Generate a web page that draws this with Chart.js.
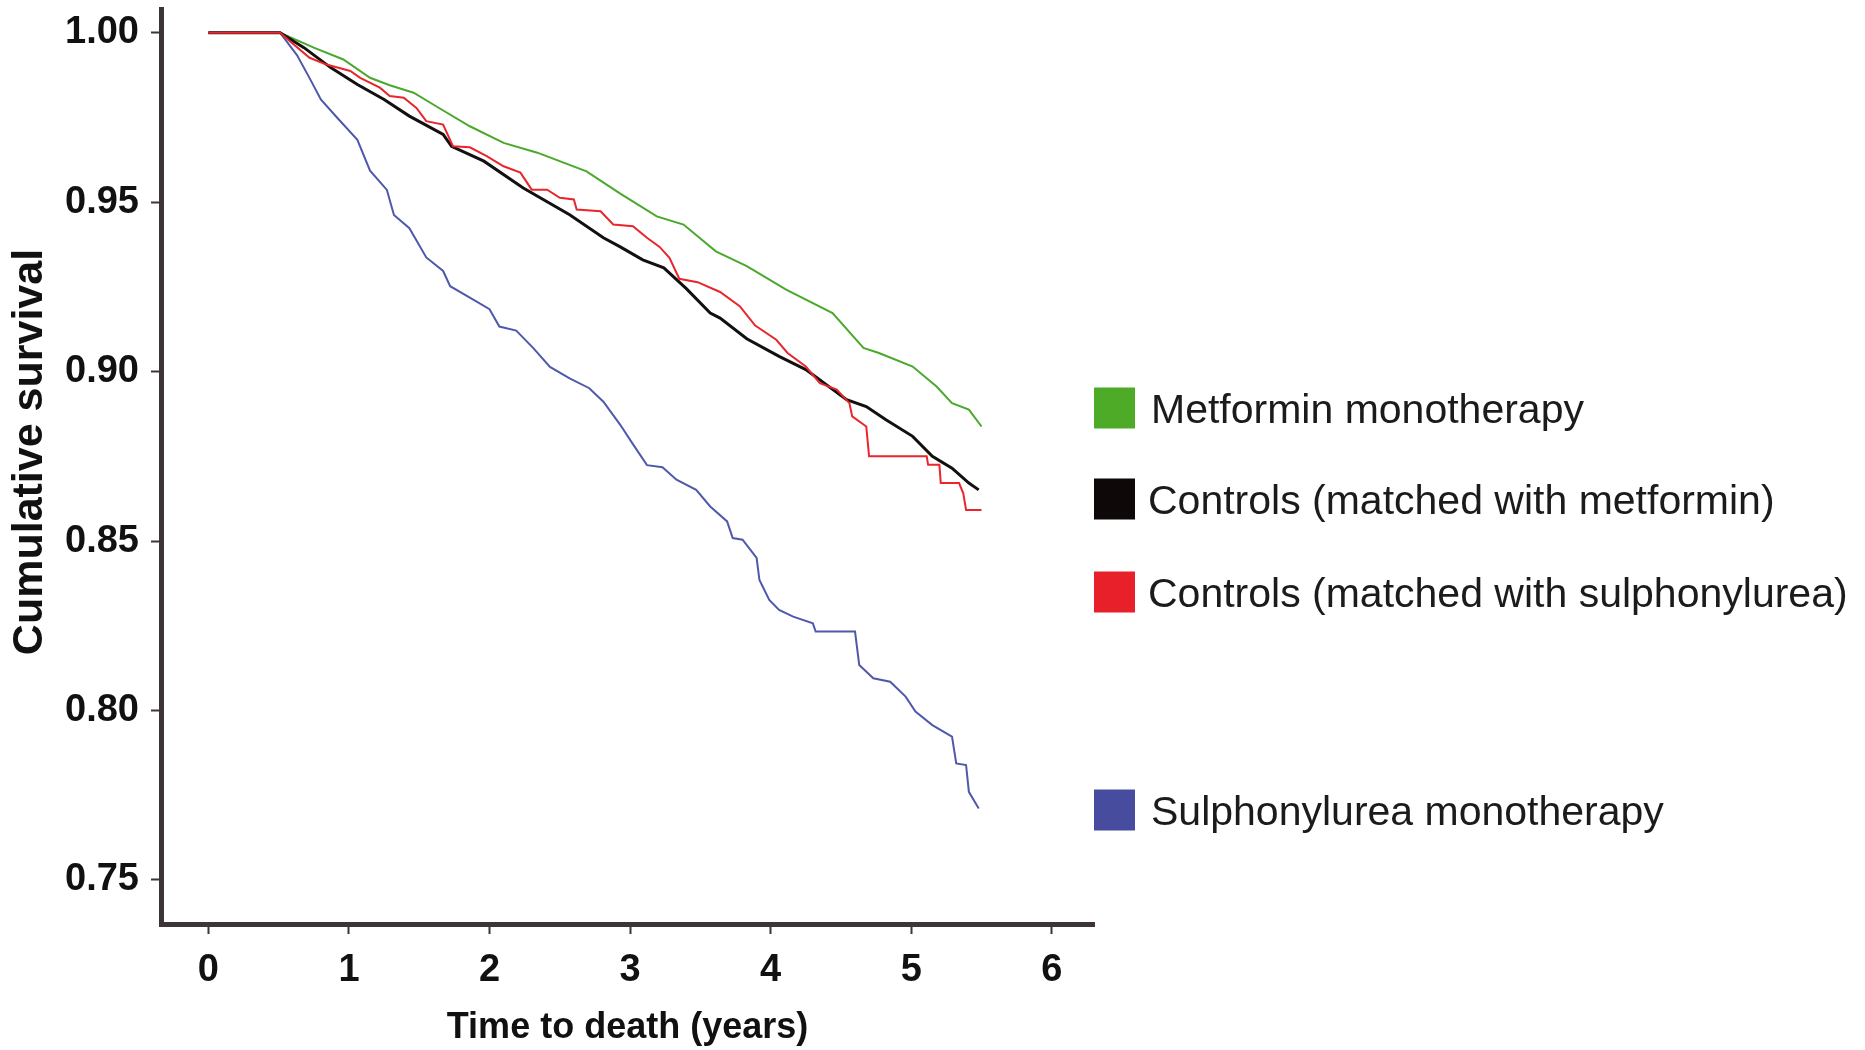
<!DOCTYPE html>
<html>
<head>
<meta charset="utf-8">
<script src="https://cdn.jsdelivr.net/npm/chart.js@4.4.1/dist/chart.umd.min.js"></script>
<style>
    html, body { margin: 0; padding: 0; background: #fff; }
    #wrap { width: 1865px; height: 1050px; }
</style>
</head>
<body>
<div id="wrap"><canvas id="km_chart"></canvas></div>
<script>
// values (time in years, cumulative survival)
const METFORMIN_T = [0, 0.51, 0.75, 0.96, 1.15, 1.29, 1.46, 1.62, 1.86, 2.10, 2.34, 2.69, 2.93, 3.19, 3.38, 3.61, 3.83, 4.11, 4.44, 4.66, 4.77, 5.01, 5.18, 5.29, 5.41, 5.50];
const METFORMIN_S = [1.0, 1.0, 0.9956, 0.9921, 0.9867, 0.9845, 0.9823, 0.9783, 0.9724, 0.9675, 0.9646, 0.9591, 0.9525, 0.9458, 0.9434, 0.9355, 0.9311, 0.9242, 0.9173, 0.9070, 0.9055, 0.9015, 0.8956, 0.8907, 0.8888, 0.8838];

const CTRL_MET_T = [0, 0.51, 0.68, 0.87, 1.06, 1.25, 1.43, 1.67, 1.73, 1.96, 2.24, 2.57, 2.81, 2.93, 3.09, 3.24, 3.40, 3.57, 3.64, 3.83, 4.06, 4.25, 4.54, 4.68, 4.82, 5.01, 5.15, 5.29, 5.41, 5.48];
const CTRL_MET_S = [1.0, 1.0, 0.9956, 0.9897, 0.9847, 0.9803, 0.9754, 0.9700, 0.9665, 0.9621, 0.9542, 0.9463, 0.9395, 0.9368, 0.9330, 0.9306, 0.9245, 0.9173, 0.9158, 0.9097, 0.9045, 0.9006, 0.8917, 0.8897, 0.8858, 0.8809, 0.8750, 0.8715, 0.8671, 0.8651];

const CTRL_SU_T = [0, 0.51, 0.58, 0.72, 0.84, 1.01, 1.08, 1.22, 1.29, 1.39, 1.48, 1.55, 1.67, 1.74, 1.86, 1.98, 2.10, 2.22, 2.30, 2.41, 2.50, 2.60, 2.62, 2.79, 2.88, 3.02, 3.12, 3.21, 3.28, 3.35, 3.48, 3.64, 3.78, 3.89, 4.04, 4.12, 4.25, 4.35, 4.47, 4.56, 4.58, 4.68, 4.70, 5.11, 5.12, 5.20, 5.21, 5.34, 5.37, 5.39, 5.50];
const CTRL_SU_S = [1.0, 1.0, 0.9975, 0.9926, 0.9906, 0.9887, 0.9867, 0.9838, 0.9813, 0.9808, 0.9778, 0.9739, 0.9729, 0.9665, 0.9662, 0.9636, 0.9606, 0.9587, 0.9537, 0.9537, 0.9513, 0.9508, 0.9478, 0.9473, 0.9434, 0.9429, 0.9395, 0.9368, 0.9336, 0.9274, 0.9264, 0.9235, 0.9193, 0.9136, 0.9094, 0.9055, 0.9015, 0.8966, 0.8947, 0.8907, 0.8868, 0.8838, 0.8750, 0.8750, 0.8725, 0.8725, 0.8671, 0.8671, 0.8641, 0.8592, 0.8592];

const SU_T = [0, 0.51, 0.63, 0.72, 0.80, 0.91, 1.06, 1.15, 1.27, 1.32, 1.43, 1.55, 1.67, 1.72, 1.86, 2.00, 2.07, 2.19, 2.31, 2.43, 2.57, 2.71, 2.81, 2.93, 3.02, 3.12, 3.23, 3.33, 3.47, 3.57, 3.69, 3.73, 3.80, 3.90, 3.92, 3.99, 4.06, 4.16, 4.30, 4.32, 4.60, 4.63, 4.73, 4.85, 4.96, 5.03, 5.15, 5.29, 5.32, 5.39, 5.41, 5.48];
const SU_S = [1.0, 1.0, 0.9934, 0.9866, 0.9803, 0.9752, 0.9684, 0.9593, 0.9536, 0.9462, 0.9423, 0.9337, 0.9297, 0.9252, 0.9218, 0.9184, 0.9133, 0.9121, 0.9070, 0.9014, 0.8980, 0.8951, 0.8911, 0.8843, 0.8786, 0.8724, 0.8718, 0.8681, 0.8651, 0.8602, 0.8558, 0.8509, 0.8504, 0.8450, 0.8385, 0.8326, 0.8297, 0.8277, 0.8257, 0.8233, 0.8233, 0.8134, 0.8095, 0.8085, 0.8041, 0.7997, 0.7957, 0.7923, 0.7844, 0.7839, 0.7760, 0.7711];

const SERIES_NAMES = ['Metformin monotherapy', 'Controls (matched with metformin)', 'Controls (matched with sulphonylurea)', 'Sulphonylurea monotherapy'];
const X_TICKS = [0, 1, 2, 3, 4, 5, 6];
const Y_TICKS = [0.75, 0.80, 0.85, 0.90, 0.95, 1.00];
const X_TITLE = 'Time to death (years)';
const Y_TITLE = 'Cumulative survival';

const SANS = "'Liberation Sans', Arial, sans-serif";
const AXIS_COLOR = '#3d3535';

function to_points(ts, ss) {
    return ts.map((t, i) => ({x: t, y: ss[i]}));
}

// legend drawn beside the plot, rows placed like the original figure
const sideLegend = {
    id: 'sideLegend',
    afterDraw(chart, args, opts) {
        const ctx = chart.ctx;
        ctx.save();
        ctx.font = opts.font;
        ctx.textBaseline = 'alphabetic';
        chart.data.datasets.forEach((ds, i) => {
            const cy = opts.rows[i];
            ctx.fillStyle = ds.boxColor;
            ctx.fillRect(opts.boxX, cy - opts.box / 2, opts.box, opts.box);
            ctx.fillStyle = opts.textColor;
            ctx.fillText(ds.label, opts.textX[i], cy + 15);
        });
        ctx.restore();
    }
};

// y title sits a bit above the middle of the axis in the original
const yTitle = {
    id: 'yTitle',
    afterDraw(chart, args, opts) {
        const ctx = chart.ctx;
        ctx.save();
        ctx.translate(opts.x, opts.y);
        ctx.rotate(-Math.PI / 2);
        ctx.font = opts.font;
        ctx.fillStyle = '#111';
        ctx.textAlign = 'center';
        ctx.textBaseline = 'middle';
        ctx.fillText(opts.text, 0, 0);
        ctx.restore();
    }
};

const datasets = [
    {label: SERIES_NAMES[0], data: to_points(METFORMIN_T, METFORMIN_S), borderColor: '#4aa82c', boxColor: '#4dab28', borderWidth: 2, order: 2},
    {label: SERIES_NAMES[1], data: to_points(CTRL_MET_T, CTRL_MET_S), borderColor: '#141010', boxColor: '#0e0808', borderWidth: 3, order: 1},
    {label: SERIES_NAMES[2], data: to_points(CTRL_SU_T, CTRL_SU_S), borderColor: '#e8262c', boxColor: '#e8202a', borderWidth: 2, order: 0},
    {label: SERIES_NAMES[3], data: to_points(SU_T, SU_S), borderColor: '#5058ac', boxColor: '#474c9e', borderWidth: 2, order: 3}
];
datasets.forEach(ds => { ds.pointRadius = 0; ds.tension = 0; ds.fill = false; });

const chart = new Chart(document.getElementById('km_chart').getContext('2d'), {
    type: 'line',
    data: {datasets: datasets},
    options: {
        responsive: true,
        maintainAspectRatio: false,
        animation: false,
        layout: {padding: {top: 9, right: 771, left: 0, bottom: 0}},
        plugins: {
            legend: {display: false},
            tooltip: {enabled: false},
            sideLegend: {
                rows: [408, 499, 592, 810],
                boxX: 1094,
                box: 41,
                textX: [1151, 1148, 1148, 1151],
                font: '41px ' + SANS,
                textColor: '#1b1b1d'
            },
            yTitle: {text: Y_TITLE, x: 30, y: 452, font: 'bold 43px ' + SANS}
        },
        scales: {
            x: {
                type: 'linear',
                min: -0.337,
                max: 6.30,
                afterBuildTicks: s => { s.ticks = X_TICKS.map(v => ({value: v})); },
                afterFit: s => { s.height = 126; s.paddingLeft = 0; s.paddingRight = 0; },
                ticks: {font: {family: SANS, size: 38, weight: 'bold'}, color: '#111', padding: 14},
                grid: {drawOnChartArea: false, drawTicks: true, tickLength: 10, tickWidth: 2, tickColor: AXIS_COLOR},
                border: {display: true, width: 5, color: AXIS_COLOR},
                title: {display: true, text: X_TITLE, color: '#111',
                        font: {family: SANS, size: 36, weight: 'bold'}, padding: {top: 0, bottom: 0}}
            },
            y: {
                type: 'linear',
                min: 0.737,
                max: 1.007,
                afterBuildTicks: s => { s.ticks = Y_TICKS.map(v => ({value: v})); },
                afterFit: s => { s.width = 161; s.paddingTop = 0; s.paddingBottom = 0; },
                ticks: {font: {family: SANS, size: 38, weight: 'bold'}, color: '#111', padding: 12,
                        callback: v => v.toFixed(2)},
                grid: {drawOnChartArea: false, drawTicks: true, tickLength: 10, tickWidth: 2, tickColor: AXIS_COLOR},
                border: {display: true, width: 5, color: AXIS_COLOR}
            }
        }
    },
    plugins: [sideLegend, yTitle]
});
</script>
</body>
</html>
